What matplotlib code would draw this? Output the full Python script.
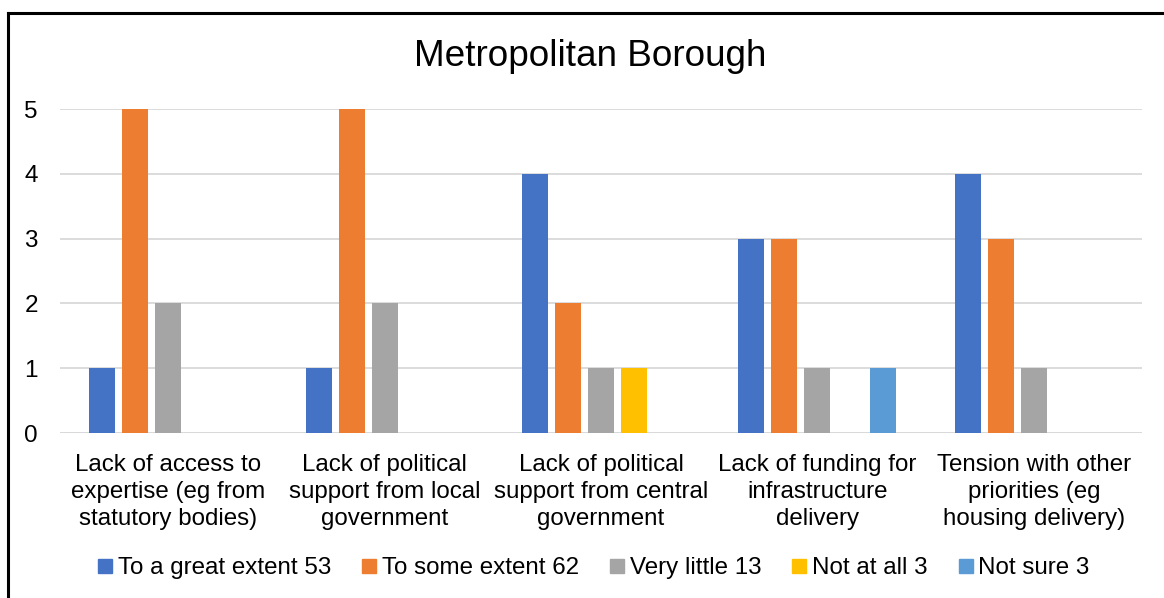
import matplotlib
matplotlib.use("Agg")
import matplotlib.pyplot as plt
import numpy as np
from matplotlib.lines import Line2D

plt.rcParams['font.family'] = ['Liberation Sans', 'DejaVu Sans']

categories = [
    "Lack of access to\nexpertise (eg from\nstatutory bodies)",
    "Lack of political\nsupport from local\ngovernment",
    "Lack of political\nsupport from central\ngovernment",
    "Lack of funding for\ninfrastructure\ndelivery",
    "Tension with other\npriorities (eg\nhousing delivery)",
]
series_names = ["To a great extent 53", "To some extent 62", "Very little 13",
                "Not at all 3", "Not sure 3"]
great_extent = [1, 1, 4, 3, 4]
some_extent = [5, 5, 2, 3, 3]
very_little = [2, 2, 1, 1, 1]
not_at_all = [0, 0, 1, 0, 0]
not_sure = [0, 0, 0, 1, 0]
y_ticks = [0, 1, 2, 3, 4, 5]

colors = ["#4472C4", "#ED7D31", "#A5A5A5", "#FFC000", "#5B9BD5"]
series = [great_extent, some_extent, very_little, not_at_all, not_sure]

fig = plt.figure(figsize=(11.64, 5.98), dpi=100)
ax = fig.add_axes([60 / 1164, 1 - 433 / 598, (1142 - 60) / 1164, (433 - 109) / 598])

x = np.arange(len(categories))
slot = 0.1525
width = 0.12
for i, (vals, col) in enumerate(zip(series, colors)):
    ax.bar(x + (i - 2) * slot, vals, width=width, color=col, zorder=3)

ax.set_xlim(-0.5, len(categories) - 0.5)
ax.set_ylim(0, 5)
ax.set_yticks(y_ticks)
ax.yaxis.grid(True, color="#D9D9D9", linewidth=1.3, zorder=0)
for s in ax.spines.values():
    s.set_visible(False)
ax.axhline(0, color="#D9D9D9", linewidth=1.3, zorder=1)
ax.tick_params(axis="y", length=0, labelsize=17.5, pad=16)
ax.tick_params(axis="x", length=0, labelsize=17.4, pad=15)
ax.set_xticks(x)
ax.set_xticklabels(categories, linespacing=1.3)

fig.text(590 / 1164, 1 - 57 / 598, "Metropolitan Borough", ha="center", va="center", fontsize=26.6)

handles = [Line2D([], [], marker="s", linestyle="none", markersize=10,
                  markerfacecolor=c, markeredgecolor=c) for c in colors]
fig.legend(handles, series_names, loc="center", bbox_to_anchor=(594 / 1164, 1 - 568 / 598),
           ncol=5, frameon=False, fontsize=17.4, handlelength=0.55, handletextpad=0.25,
           columnspacing=1.3)

# outer frame (top and left edges)
fig.add_artist(Line2D([8 / 1164, 8 / 1164], [0, 1 - 13 / 598], transform=fig.transFigure,
                      color="black", linewidth=2.2))
fig.add_artist(Line2D([8 / 1164, 1], [1 - 13 / 598, 1 - 13 / 598], transform=fig.transFigure,
                      color="black", linewidth=2.2))

fig.savefig("out.png", dpi=100)
